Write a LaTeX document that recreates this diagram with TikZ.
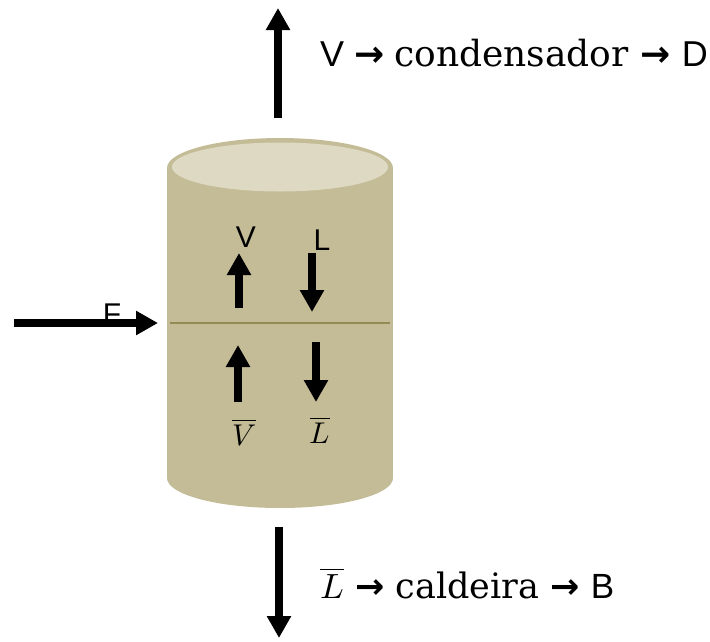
\documentclass[tikz,border=0pt]{standalone}
\usepackage{unicode-math}
\setmainfont{DejaVu Serif}
\setsansfont{Liberation Sans}
\newfontfamily\arrowfont{DejaVu Sans}
\usetikzlibrary{arrows.meta}
\definecolor{drum}{HTML}{C4BC96}
\definecolor{drumtop}{HTML}{DDD9C3}
\definecolor{tray}{HTML}{948A54}

\begin{document}
\begin{tikzpicture}[x=1pt,y=-1pt]
\pgfmathsetmacro{\xL}{167}
\pgfmathsetmacro{\xR}{393}
\pgfmathsetmacro{\xMid}{280}
\pgfmathsetmacro{\yTop}{168}
\pgfmathsetmacro{\yBot}{478}

\tikzstyle{flow}=[line width=8.5pt,-{Triangle[width=23pt,length=22pt]}]
\tikzstyle{bigtext}=[font=\fontsize{36}{40}\selectfont,anchor=base west,inner sep=0pt]
\tikzstyle{smalltext}=[font=\fontsize{35}{38}\selectfont,anchor=base west,inner sep=0pt]
\tikzstyle{label}=[font=\sffamily\fontsize{30}{32}\selectfont,anchor=base,inner sep=0pt]
\tikzstyle{mlabel}=[font=\fontsize{30}{32}\selectfont,anchor=base,inner sep=0pt]

\useasboundingbox (0,0) rectangle (710,641);

\fill[drum] (\xMid,\yBot) ellipse[x radius=113,y radius=30];
\fill[drum] (\xL,\yTop) rectangle (\xR,\yBot);
\fill[drum] (\xMid,\yTop) ellipse[x radius=113,y radius=30];
\fill[drumtop] (\xMid,167) ellipse[x radius=108,y radius=24.5];
\draw[tray,line width=1.5pt] (170,323) -- (390,323);

\node[label] (F) at (112,324) {F};
\node[label] (V) at (246,247) {V};
\node[label] (L) at (322,250) {L};
\node[mlabel] (Vb) at (244,445) {$\overline{V}$};
\node[mlabel] (Lb) at (320,443) {$\overline{L}$};

\coordinate (top0) at (278,118);
\coordinate (top1) at (278,8);
\coordinate (bot0) at (279,527);
\coordinate (bot1) at (279,638);
\coordinate (feed0) at (14,323);
\coordinate (feed1) at (158,323);
\coordinate (v0) at (239,308);
\coordinate (v1) at (239,253);
\coordinate (l0) at (312,253);
\coordinate (l1) at (312,312);
\coordinate (vb0) at (238,402);
\coordinate (vb1) at (238,345);
\coordinate (lb0) at (316,342);
\coordinate (lb1) at (316,402);

\draw[flow] (top0) -- (top1);
\draw[flow] (bot0) -- (bot1);
\draw[flow] (feed0) -- (feed1);
\draw[flow] (v0) -- (v1);
\draw[flow] (l0) -- (l1);
\draw[flow] (vb0) -- (vb1);
\draw[flow] (lb0) -- (lb1);

\node[bigtext] (distil) at (320,66) {\sffamily V {\arrowfont\bfseries →} \rmfamily condensador {\arrowfont\bfseries →} \sffamily D};
\node[smalltext] (bottom) at (320,598) {$\overline{L}$ {\arrowfont\bfseries →} caldeira {\arrowfont\bfseries →} \sffamily B};
\end{tikzpicture}
\end{document}
